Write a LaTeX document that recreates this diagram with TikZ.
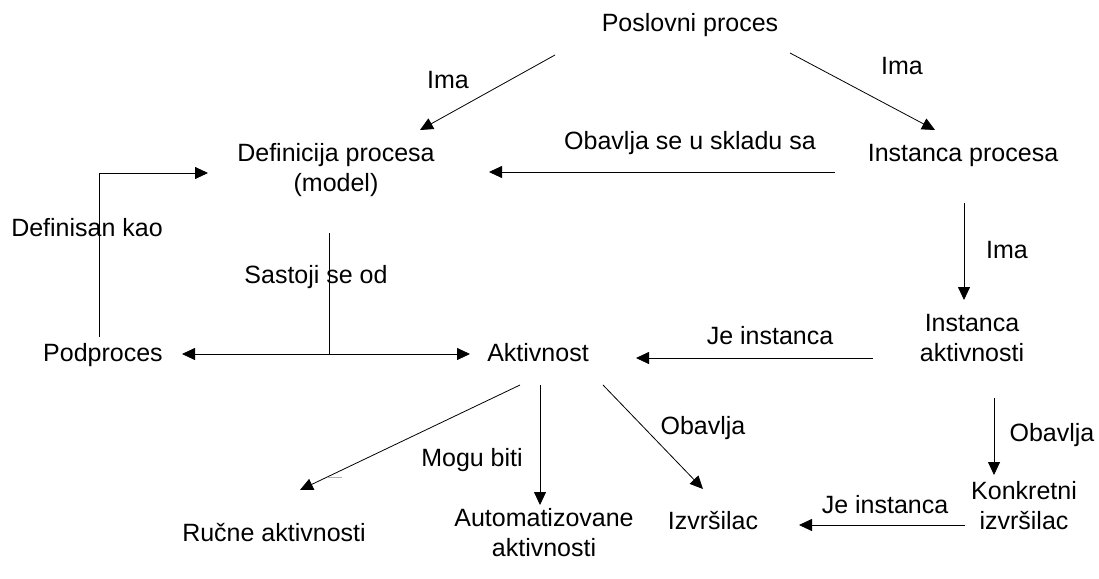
\documentclass[tikz,border=0pt]{standalone}
\usepackage{fontspec}
\setmainfont{Liberation Sans}
\usetikzlibrary{arrows.meta}
\begin{document}
\begin{tikzpicture}[x=1pt,y=-1pt,
  lbl/.style={inner sep=0pt, align=center, text height=18pt, text depth=5pt, font=\fontsize{25}{30}\selectfont},
  arr/.style={draw=black, line width=0.8pt, -{Triangle[length=13pt,width=12pt]}},
  ln/.style={draw=black, line width=0.8pt}]
\useasboundingbox (0,0) rectangle (1099,578);
% nodes
\node[lbl] (pp) at (690,25) {Poslovni proces};
\node[lbl] (dp) at (336,185) {Definicija procesa\\(model)};
\node[lbl] (ip) at (963,155) {Instanca procesa};
\node[lbl] (pod) at (103,355) {Podproces};
\node[lbl] (akt) at (538,355) {Aktivnost};
\node[lbl] (ia) at (972,355) {Instanca\\aktivnosti};
\node[lbl] (ki) at (1024,523) {Konkretni\\izvršilac};
\node[lbl] (izv) at (713,523) {Izvršilac};
\node[lbl] (ru) at (274,535) {Ručne aktivnosti};
\node[lbl] (au) at (544,550) {Automatizovane\\aktivnosti};
% connector labels
\node[lbl] (l1) at (448,82) {Ima};
\node[lbl] (l2) at (902,68) {Ima};
\node[lbl] (l3) at (690,143) {Obavlja se u skladu sa};
\node[lbl] (l4) at (87,230) {Definisan kao};
\node[lbl] (l5) at (316,277) {Sastoji se od};
\node[lbl] (l6) at (1007,252) {Ima};
\node[lbl] (l7) at (770,338) {Je instanca};
\node[lbl] (l8) at (703,428) {Obavlja};
\node[lbl] (l9) at (472,460) {Mogu biti};
\node[lbl] (l10) at (1052,435) {Obavlja};
\node[lbl] (l11) at (885,507) {Je instanca};
% connector end points
\coordinate (pp-l) at (555,55);
\coordinate (dp-t) at (420,130);
\coordinate (pp-r) at (790,53);
\coordinate (ip-t) at (935,130);
\coordinate (ip-l) at (835,172);
\coordinate (dp-r) at (489,172);
\coordinate (ip-b) at (964,203);
\coordinate (ia-t) at (964,300);
\coordinate (ia-l) at (873,358);
\coordinate (akt-r) at (636,358);
\coordinate (pod-t) at (99,337);
\coordinate (bend) at (99,173);
\coordinate (dp-l) at (208,173);
\coordinate (dp-b) at (329,233);
\coordinate (tj) at (329,354);
\coordinate (pod-r) at (182,354);
\coordinate (akt-l) at (470,354);
\coordinate (ia-b) at (994,398);
\coordinate (ki-t) at (994,475);
\coordinate (ki-l) at (965,525);
\coordinate (izv-r) at (799,525);
\coordinate (akt-br) at (603,385);
\coordinate (izv-t) at (703,489);
\coordinate (akt-b) at (540,385);
\coordinate (au-t) at (540,505);
\coordinate (akt-bl) at (520,385);
\coordinate (ru-t) at (300,490);
% connectors
\draw[arr] (pp-l) -- (dp-t);
\draw[arr] (pp-r) -- (ip-t);
\draw[arr] (ip-l) -- (dp-r);
\draw[arr] (ip-b) -- (ia-t);
\draw[arr] (ia-l) -- (akt-r);
\draw[arr] (pod-t) -- (bend) -- (dp-l);
\draw[ln] (dp-b) -- (tj);
\draw[arr] (tj) -- (pod-r);
\draw[arr] (tj) -- (akt-l);
\draw[arr] (ia-b) -- (ki-t);
\draw[arr] (ki-l) -- (izv-r);
\draw[arr] (akt-br) -- (izv-t);
\draw[arr] (akt-b) -- (au-t);
\draw[arr] (akt-bl) -- (ru-t);
% stray blue mark
\draw[draw={rgb,255:red,150;green,185;blue,225}, line width=0.8pt] (328,477) -- (342,477);
\end{tikzpicture}
\end{document}
